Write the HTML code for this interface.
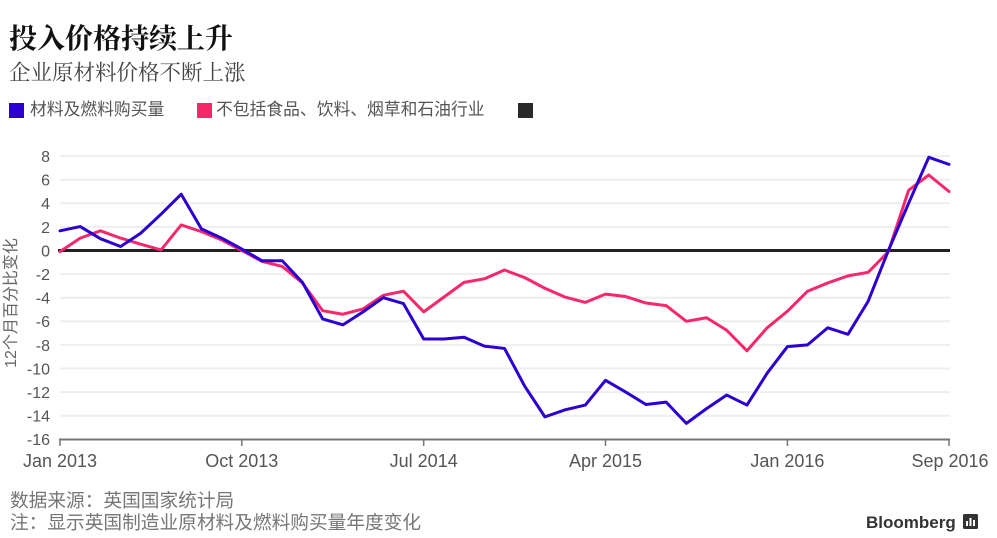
<!DOCTYPE html>
<html>
<head>
<meta charset="utf-8">
<style>
  html,body{margin:0;padding:0;background:#fff;}
  body{width:997px;height:538px;position:relative;overflow:hidden;font-family:"Liberation Sans","Noto Sans CJK SC",sans-serif;}
  .t{position:absolute;white-space:nowrap;}
  #title{left:9px;top:22px;font-family:"Liberation Serif","Noto Serif CJK SC",serif;font-size:28px;font-weight:bold;color:#111;line-height:36px;}
  #sub{left:9px;top:59px;font-family:"Liberation Serif","Noto Serif CJK SC",serif;font-size:21.5px;color:#444;line-height:28px;}
  .leg{position:absolute;top:100px;font-size:16.8px;color:#555;line-height:20px;white-space:nowrap;font-family:"Liberation Sans","Noto Sans CJK SC",sans-serif;}
  .sq{position:absolute;width:15px;height:15px;top:103px;}
  .foot{position:absolute;left:10px;font-size:18.7px;color:#777;white-space:nowrap;line-height:22px;font-family:"Liberation Sans","Noto Sans CJK SC",sans-serif;}
</style>
</head>
<body>
<div id="title" class="t">投入价格持续上升</div>
<div id="sub" class="t">企业原材料价格不断上涨</div>

<div class="sq" style="left:9px;background:#2d00d2;"></div>
<div class="leg" style="left:30px;">材料及燃料购买量</div>
<div class="sq" style="left:197px;background:#f7286a;"></div>
<div class="leg" style="left:216px;">不包括食品、饮料、烟草和石油行业</div>
<div class="sq" style="left:518px;background:#2a2a2a;"></div>

<svg width="997" height="538" style="position:absolute;left:0;top:0;" xmlns="http://www.w3.org/2000/svg">
  <g stroke="#eeeeee" stroke-width="2">
    <line x1="60" x2="950" y1="156.1" y2="156.1"/>
    <line x1="60" x2="950" y1="179.7" y2="179.7"/>
    <line x1="60" x2="950" y1="203.3" y2="203.3"/>
    <line x1="60" x2="950" y1="226.9" y2="226.9"/>
    <line x1="60" x2="950" y1="274.1" y2="274.1"/>
    <line x1="60" x2="950" y1="297.7" y2="297.7"/>
    <line x1="60" x2="950" y1="321.3" y2="321.3"/>
    <line x1="60" x2="950" y1="344.9" y2="344.9"/>
    <line x1="60" x2="950" y1="368.5" y2="368.5"/>
    <line x1="60" x2="950" y1="392.1" y2="392.1"/>
    <line x1="60" x2="950" y1="415.7" y2="415.7"/>
  </g>
  <line x1="59" x2="950" y1="439.5" y2="439.5" stroke="#777" stroke-width="2"/>
  <g stroke="#777" stroke-width="1.5">
    <line x1="60" x2="60" y1="439" y2="446"/>
    <line x1="241.8" x2="241.8" y1="439" y2="446"/>
    <line x1="423.7" x2="423.7" y1="439" y2="446"/>
    <line x1="605.5" x2="605.5" y1="439" y2="446"/>
    <line x1="787.4" x2="787.4" y1="439" y2="446"/>
    <line x1="949" x2="949" y1="439" y2="446"/>
  </g>
  <line x1="58" x2="950" y1="250.5" y2="250.5" stroke="#222" stroke-width="3"/>

  <g font-family="Liberation Sans, sans-serif" font-size="16" fill="#555" text-anchor="end">
    <text x="50" y="162">8</text>
    <text x="50" y="185.6">6</text>
    <text x="50" y="209.2">4</text>
    <text x="50" y="232.8">2</text>
    <text x="50" y="256.4">0</text>
    <text x="50" y="280">-2</text>
    <text x="50" y="303.6">-4</text>
    <text x="50" y="327.2">-6</text>
    <text x="50" y="350.8">-8</text>
    <text x="50" y="374.4">-10</text>
    <text x="50" y="398">-12</text>
    <text x="50" y="421.6">-14</text>
    <text x="50" y="445.2">-16</text>
  </g>
  <text transform="translate(16,303) rotate(-90)" text-anchor="middle" font-family="Liberation Sans, Noto Sans CJK SC, sans-serif" font-size="16" fill="#666">12个月百分比变化</text>

  <g font-family="Liberation Sans, sans-serif" font-size="18" fill="#555" text-anchor="middle">
    <text x="60" y="467">Jan 2013</text>
    <text x="241.8" y="467">Oct 2013</text>
    <text x="423.7" y="467">Jul 2014</text>
    <text x="605.5" y="467">Apr 2015</text>
    <text x="787.4" y="467">Jan 2016</text>
    <text x="950" y="467">Sep 2016</text>
  </g>

  <g transform="translate(60,250.5) scale(20.2045,-11.8)" fill="none" stroke-linejoin="round" stroke-linecap="round">
    <polyline vector-effect="non-scaling-stroke" stroke="#f7286a" stroke-width="3"
      points="0,-0.1 1,1.05 2,1.67 3,1.05 4,0.54 5,0.05 6,2.17 7,1.6 8,0.9 9,0 10,-0.93 11,-1.35 12,-2.75 13,-5.1 14,-5.4 15,-4.95 16,-3.8 17,-3.45 18,-5.2 19,-3.95 20,-2.7 21,-2.4 22,-1.65 23,-2.3 24,-3.2 25,-3.95 26,-4.4 27,-3.7 28,-3.9 29,-4.45 30,-4.67 31,-6.0 32,-5.7 33,-6.76 34,-8.5 35,-6.55 36,-5.15 37,-3.45 38,-2.75 39,-2.15 40,-1.85 41,-0.1 42,5.1 43,6.4 44,5.0"/>
    <polyline vector-effect="non-scaling-stroke" stroke="#2d00d2" stroke-width="3"
      points="0,1.67 1,2.03 2,1.0 3,0.34 4,1.47 5,3.08 6,4.77 7,1.83 8,1.05 9,0.12 10,-0.87 11,-0.87 12,-2.7 13,-5.8 14,-6.3 15,-5.2 16,-4.0 17,-4.5 18,-7.5 19,-7.5 20,-7.35 21,-8.1 22,-8.3 23,-11.5 24,-14.1 25,-13.5 26,-13.1 27,-11.0 28,-12.0 29,-13.05 30,-12.85 31,-14.65 32,-13.4 33,-12.25 34,-13.1 35,-10.4 36,-8.15 37,-8.0 38,-6.55 39,-7.1 40,-4.3 41,0 42,4.0 43,7.9 44,7.3"/>
  </g>

  <text x="866" y="528" font-family="Liberation Sans, sans-serif" font-size="17" font-weight="bold" fill="#333">Bloomberg</text>
  <g>
    <rect x="963" y="514" width="15" height="15" rx="1.5" fill="#333"/>
    <rect x="966" y="521" width="2" height="5" fill="#fff"/>
    <rect x="969.5" y="518" width="2" height="8" fill="#fff"/>
    <rect x="973" y="520" width="2" height="6" fill="#fff"/>
  </g>
</svg>

<div class="foot" style="top:490px;">数据来源：英国国家统计局</div>
<div class="foot" style="top:512px;">注：显示英国制造业原材料及燃料购买量年度变化</div>
</body>
</html>
